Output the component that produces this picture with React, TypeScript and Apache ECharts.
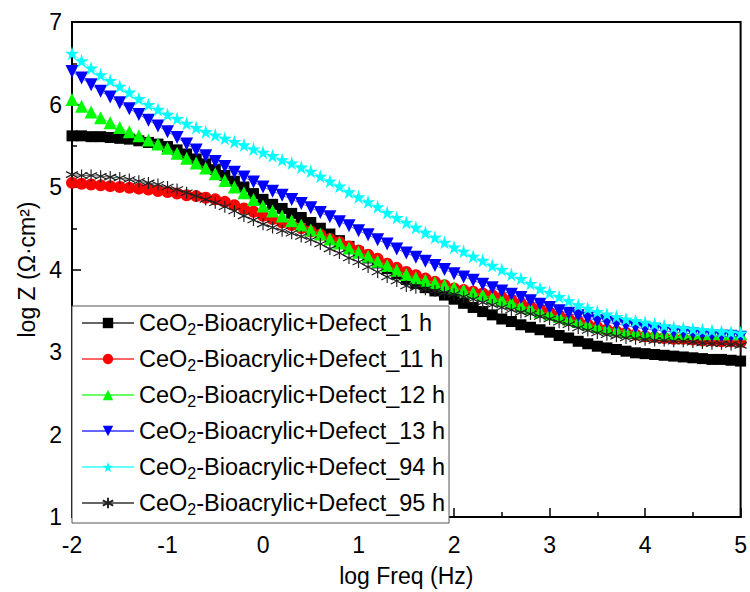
import React, { useEffect, useRef } from 'react';
import * as echarts from 'echarts';

const logFreq = [
  -2.0, -1.9, -1.8, -1.7, -1.6, -1.5, -1.4, -1.3, -1.2, -1.1,
  -1.0, -0.9, -0.8, -0.7, -0.6, -0.5, -0.4, -0.3, -0.2, -0.1,
  0.0, 0.1, 0.2, 0.3, 0.4, 0.5, 0.6, 0.7, 0.8, 0.9,
  1.0, 1.1, 1.2, 1.3, 1.4, 1.5, 1.6, 1.7, 1.8, 1.9,
  2.0, 2.1, 2.2, 2.3, 2.4, 2.5, 2.6, 2.7, 2.8, 2.9,
  3.0, 3.1, 3.2, 3.3, 3.4, 3.5, 3.6, 3.7, 3.8, 3.9,
  4.0, 4.1, 4.2, 4.3, 4.4, 4.5, 4.6, 4.7, 4.8, 4.9, 5.0,
];

const z1h = [
  5.62, 5.62, 5.61, 5.61, 5.60, 5.59, 5.58, 5.56, 5.54, 5.52,
  5.49, 5.45, 5.40, 5.34, 5.28, 5.21, 5.14, 5.07, 5.00, 4.92,
  4.85, 4.79, 4.74, 4.68, 4.63, 4.57, 4.50, 4.43, 4.35, 4.28,
  4.21, 4.14, 4.08, 4.01, 3.95, 3.88, 3.83, 3.78, 3.74, 3.69,
  3.64, 3.59, 3.54, 3.49, 3.45, 3.40, 3.37, 3.33, 3.30, 3.27,
  3.24, 3.20, 3.17, 3.13, 3.10, 3.07, 3.05, 3.03, 3.01, 2.99,
  2.98, 2.97, 2.96, 2.95, 2.94, 2.93, 2.92, 2.91, 2.91, 2.90, 2.89,
];

const z11h = [
  5.05, 5.04, 5.03, 5.02, 5.01, 5.00, 4.99, 4.98, 4.97, 4.95,
  4.94, 4.92, 4.90, 4.89, 4.87, 4.85, 4.82, 4.78, 4.74, 4.70,
  4.65, 4.61, 4.57, 4.54, 4.50, 4.46, 4.42, 4.37, 4.33, 4.28,
  4.23, 4.18, 4.13, 4.07, 4.02, 3.97, 3.93, 3.89, 3.85, 3.81,
  3.77, 3.75, 3.73, 3.71, 3.69, 3.66, 3.63, 3.59, 3.55, 3.52,
  3.48, 3.44, 3.40, 3.37, 3.33, 3.30, 3.27, 3.25, 3.23, 3.21,
  3.19, 3.18, 3.17, 3.16, 3.16, 3.15, 3.14, 3.14, 3.13, 3.13, 3.12,
];

const z12h = [
  6.06, 5.98, 5.91, 5.84, 5.78, 5.72, 5.67, 5.62, 5.57, 5.52,
  5.47, 5.41, 5.35, 5.29, 5.23, 5.16, 5.08, 5.00, 4.93, 4.85,
  4.77, 4.71, 4.65, 4.59, 4.54, 4.48, 4.43, 4.37, 4.32, 4.26,
  4.21, 4.16, 4.10, 4.05, 3.99, 3.94, 3.90, 3.87, 3.84, 3.81,
  3.78, 3.75, 3.72, 3.69, 3.66, 3.63, 3.60, 3.56, 3.53, 3.49,
  3.46, 3.43, 3.40, 3.37, 3.34, 3.31, 3.29, 3.27, 3.25, 3.24,
  3.23, 3.23, 3.22, 3.22, 3.22, 3.22, 3.22, 3.22, 3.22, 3.22, 3.22,
];

const z13h = [
  6.40, 6.32, 6.24, 6.16, 6.09, 6.02, 5.95, 5.88, 5.81, 5.74,
  5.67, 5.60, 5.52, 5.45, 5.38, 5.31, 5.25, 5.18, 5.12, 5.06,
  5.00, 4.95, 4.90, 4.85, 4.80, 4.75, 4.69, 4.64, 4.58, 4.53,
  4.47, 4.42, 4.36, 4.31, 4.25, 4.20, 4.15, 4.10, 4.05, 4.00,
  3.95, 3.91, 3.87, 3.82, 3.78, 3.74, 3.70, 3.66, 3.62, 3.58,
  3.54, 3.50, 3.47, 3.44, 3.41, 3.38, 3.36, 3.34, 3.32, 3.30,
  3.28, 3.27, 3.26, 3.24, 3.23, 3.22, 3.21, 3.20, 3.19, 3.19, 3.18,
];

const z94h = [
  6.62, 6.53, 6.44, 6.36, 6.29, 6.22, 6.15, 6.07, 6.00, 5.94,
  5.88, 5.83, 5.77, 5.72, 5.67, 5.63, 5.59, 5.55, 5.51, 5.46,
  5.42, 5.38, 5.33, 5.29, 5.24, 5.19, 5.13, 5.07, 5.01, 4.94,
  4.88, 4.82, 4.76, 4.69, 4.63, 4.57, 4.51, 4.45, 4.39, 4.33,
  4.27, 4.22, 4.16, 4.11, 4.05, 4.00, 3.94, 3.89, 3.83, 3.77,
  3.72, 3.67, 3.62, 3.57, 3.53, 3.49, 3.46, 3.43, 3.40, 3.38,
  3.36, 3.34, 3.32, 3.30, 3.29, 3.28, 3.27, 3.26, 3.25, 3.24, 3.23,
];

const z95h = [
  5.15, 5.14, 5.14, 5.13, 5.12, 5.11, 5.09, 5.07, 5.05, 5.03,
  5.00, 4.97, 4.93, 4.89, 4.85, 4.81, 4.76, 4.71, 4.65, 4.60,
  4.55, 4.51, 4.47, 4.44, 4.40, 4.36, 4.31, 4.25, 4.20, 4.14,
  4.09, 4.03, 3.97, 3.91, 3.86, 3.80, 3.78, 3.76, 3.74, 3.72,
  3.70, 3.67, 3.64, 3.60, 3.57, 3.54, 3.51, 3.48, 3.46, 3.43,
  3.40, 3.36, 3.33, 3.29, 3.26, 3.23, 3.21, 3.19, 3.17, 3.16,
  3.15, 3.14, 3.14, 3.13, 3.13, 3.12, 3.11, 3.10, 3.10, 3.09, 3.08,
];

const seriesNames = [
  'CeO2-Bioacrylic+Defect_1 h',
  'CeO2-Bioacrylic+Defect_11 h',
  'CeO2-Bioacrylic+Defect_12 h',
  'CeO2-Bioacrylic+Defect_13 h',
  'CeO2-Bioacrylic+Defect_94 h',
  'CeO2-Bioacrylic+Defect_95 h',
];
const seriesValues = [z1h, z11h, z12h, z13h, z94h, z95h];
const seriesColors = ['#000000', '#ff0000', '#00ff00', '#0000ff', '#00ffff', '#000000'];

const STAR = 'path://M50,0 L61,35 L98,35 L68,57 L79,91 L50,70 L21,91 L32,57 L2,35 L39,35 Z';
const ASTERISK = 'path://M50,0 L50,100 M7,25 L93,75 M7,75 L93,25';

const symbolStyles = [
  { symbol: 'rect', symbolSize: 11, rotate: 0 },
  { symbol: 'circle', symbolSize: 12, rotate: 0 },
  { symbol: 'triangle', symbolSize: 13, rotate: 0 },
  { symbol: 'triangle', symbolSize: 13, rotate: 180 },
  { symbol: STAR, symbolSize: 14, rotate: 0 },
  { symbol: ASTERISK, symbolSize: 12, rotate: 0 },
];

const FONT = 'Arial, "Liberation Sans", sans-serif';

export default function App() {
  const ref = useRef<HTMLDivElement>(null);
  useEffect(() => {
    if (!ref.current) return;
    const chart = echarts.init(ref.current, null, { renderer: 'svg' });
    const series = seriesNames.map((name, i) => {
      const st = symbolStyles[i];
      const isAst = i === 5;
      return {
        name,
        type: 'line',
        data: logFreq.map((x, j) => [x, seriesValues[i][j]]),
        symbol: st.symbol,
        symbolSize: st.symbolSize,
        symbolRotate: st.rotate,
        showAllSymbol: true,
        lineStyle: { color: seriesColors[i], width: 1, opacity: 0.6 },
        itemStyle: isAst
          ? { color: 'rgba(0,0,0,0)', borderColor: '#222', borderWidth: 1.2 }
          : { color: seriesColors[i], borderWidth: 0 },
        z: 2 + i,
      };
    });
    chart.setOption({
      animation: false,
      backgroundColor: '#ffffff',
      grid: {
        left: 72,
        right: 8,
        top: 22,
        bottom: 74,
        show: true,
        borderColor: '#000',
        borderWidth: 2,
      },
      legend: {
        orient: 'vertical',
        left: 72,
        top: 306,
        padding: [3, 4, 6, 9],
        itemWidth: 52,
        itemHeight: 13,
        itemGap: 8,
        backgroundColor: '#ffffff',
        borderColor: '#555',
        borderWidth: 1,
        borderRadius: 0,
        data: seriesNames,
        formatter: (name: string) => name.replace('CeO2', 'CeO{sub|2}'),
        textStyle: {
          fontFamily: FONT,
          fontSize: 23.5,
          color: '#000',
          lineHeight: 26,
          rich: {
            sub: {
              fontFamily: FONT,
              fontSize: 16,
              color: '#000',
              lineHeight: 26,
              padding: [12, 0, 0, 0],
            },
          },
        },
      },
      xAxis: {
        type: 'value',
        min: -2,
        max: 5,
        interval: 1,
        name: 'log Freq (Hz)',
        nameLocation: 'middle',
        nameGap: 47,
        nameTextStyle: { fontFamily: FONT, fontSize: 23, color: '#000' },
        axisLine: { show: true, onZero: false, lineStyle: { color: '#000', width: 2 } },
        axisTick: { show: true, inside: true, length: 9, lineStyle: { color: '#000', width: 1.5 } },
        minorTick: { show: true, splitNumber: 2, length: 5, lineStyle: { color: '#000', width: 1.5 } },
        splitLine: { show: false },
        axisLabel: { fontFamily: FONT, fontSize: 23, color: '#000', margin: 16 },
      },
      yAxis: {
        type: 'value',
        min: 1,
        max: 7,
        interval: 1,
        name: 'log Z (Ω·cm²)',
        nameLocation: 'middle',
        nameGap: 32,
        nameTextStyle: { fontFamily: FONT, fontSize: 23, color: '#000' },
        axisLine: { show: true, onZero: false, lineStyle: { color: '#000', width: 2 } },
        axisTick: { show: true, inside: true, length: 9, lineStyle: { color: '#000', width: 1.5 } },
        minorTick: { show: true, splitNumber: 2, length: 5, lineStyle: { color: '#000', width: 1.5 } },
        splitLine: { show: false },
        axisLabel: { fontFamily: FONT, fontSize: 23, color: '#000', margin: 10 },
      },
      series,
    });
    return () => chart.dispose();
  }, []);
  return <div ref={ref} style={{ width: 750, height: 592, position: 'absolute', left: 0, top: 0 }} />;
}
